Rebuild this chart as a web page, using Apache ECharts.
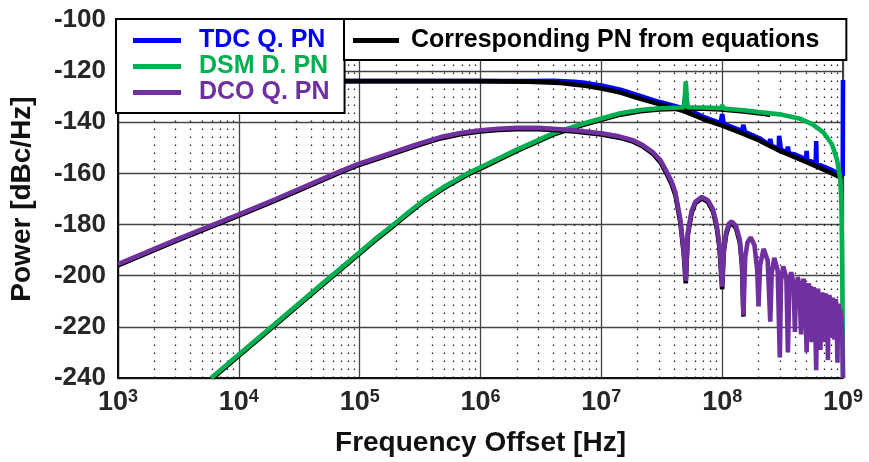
<!DOCTYPE html>
<html><head><meta charset="utf-8">
<script src="https://cdn.jsdelivr.net/npm/echarts@6/dist/echarts.min.js"></script>
<style>html,body{margin:0;padding:0;background:#fff}#c{width:869px;height:462px}</style>
</head><body><div id="c"></div>
<script>
// ---- data: [frequency offset (Hz), power (dBc/Hz)] ----
const tdcPN = [[1e3,-123.9],[2.5e6,-123.9],[4e6,-123.8],[6e6,-124.2],[7.6e6,-124.7],[1e7,-125.6],[1.44e7,-127.3],[2e7,-129.4],[3e7,-132],[4.8e7,-134.6],[5e7,-128.4],[5.2e7,-135],[7e7,-137.9],[9.7e7,-140.3],[1e8,-136.8],[1.03e8,-140.6],[1.46e8,-143.4],[1.5e8,-141],[1.54e8,-143.7],[1.95e8,-145.9],[2e8,-145.3],[2.05e8,-146.3],[2.44e8,-148.8],[2.5e8,-146.5],[2.56e8,-149.2],[2.94e8,-150.3],[2.96e8,-145.3],[3.04e8,-145.3],[3.06e8,-150.6],[3.44e8,-151.9],[3.5e8,-149.5],[3.56e8,-152.1],[4e8,-152.6],[4.5e8,-153.6],[4.95e8,-154.4],[5e8,-151.2],[5.05e8,-154.6],[5.5e8,-155.4],[5.95e8,-156],[6e8,-147.3],[6.05e8,-156.2],[7e8,-157.4],[7.5e8,-158],[8e8,-158.6],[9e8,-159.9],[9.95e8,-160.8],[1e9,-123.5]];
const tdcEq = [[1e3,-123.9],[1e6,-123.9],[2.5e6,-124.1],[4.6e6,-124.6],[7.6e6,-125.8],[1e7,-126.8],[1.44e7,-128.4],[2e7,-130.5],[3e7,-132.9],[4.8e7,-135.6],[7e7,-138.8],[1e8,-141.3],[1.5e8,-144.5],[2e8,-147],[3e8,-151.2],[5e8,-155.6],[7e8,-158.6],[8.9e8,-160.9],[1e9,-161.8]];
const dsmEq = [[6.1e3,-240],[1e4,-231.3],[2e4,-219.3],[5e4,-203.3],[1e5,-191.3],[1.31e5,-186.6],[1.92e5,-180.4],[2.6e5,-175.3],[3.4e5,-171],[5e5,-165.7],[7.8e5,-160.5],[1e6,-158.1],[2e6,-151.2],[4e6,-144.8],[7e6,-141.1],[1e7,-139],[1.44e7,-137],[2.1e7,-135.7],[3e7,-135],[4.5e7,-134.7],[7e7,-134.7],[9.8e7,-135],[1.5e8,-135.8],[2e8,-136.5],[2.5e8,-137]];
const dsmPN = [[5.9e3,-240],[1e4,-230.8],[2e4,-218.8],[5e4,-202.8],[1e5,-190.8],[1.31e5,-186.1],[1.92e5,-179.9],[2.6e5,-174.8],[3.4e5,-170.5],[5e5,-165.2],[7.8e5,-160],[1e6,-157.6],[2e6,-150.7],[4e6,-144.3],[7e6,-140.6],[1e7,-138.5],[1.44e7,-136.5],[2.1e7,-135.2],[3e7,-134.5],[4.5e7,-134.2],[4.85e7,-134.1],[5e7,-124],[5.15e7,-134.1],[7e7,-134.2],[9.8e7,-134.5],[1e8,-133.2],[1.02e8,-134.6],[1.5e8,-135.3],[2e8,-136],[3e8,-136.9],[4.4e8,-138.6],[5.6e8,-140.8],[6.9e8,-144],[8.1e8,-148.6],[8.9e8,-154.4],[9.5e8,-162.2],[9.7e8,-172],[9.85e8,-195],[1e9,-240]];
const dcoEq = [[1e3,-196],[3e3,-186.5],[1e4,-176.5],[2e4,-170.6],[4e4,-164.5],[7e4,-159.5],[1e5,-156.6],[1.8e5,-152.6],[3e5,-149.1],[4.67e5,-146.3],[7e5,-144.6],[1e6,-143.6],[1.4e6,-143],[2e6,-142.7],[3e6,-142.7],[4e6,-143],[6e6,-143.6],[1e7,-144.8],[1.4e7,-146],[1.8e7,-147.4],[2.2e7,-149.4],[2.7e7,-152.5],[3.1e7,-155.8],[3.5e7,-160.5],[3.8e7,-164],[4.1e7,-168.5],[4.5e7,-179],[4.8e7,-191],[5e7,-203],[5.2e7,-184],[5.6e7,-175.2],[6e7,-171.6],[6.8e7,-169.8],[7.6e7,-171.1],[8.4e7,-174.8],[9e7,-181],[9.5e7,-189],[1e8,-205.3],[1.03e8,-191],[1.08e8,-183.8],[1.14e8,-180.2],[1.2e8,-179.5],[1.3e8,-181.3],[1.4e8,-187],[1.46e8,-196],[1.5e8,-216]];
const dcoPN = [[1e3,-195.5],[3e3,-186],[1e4,-176],[2e4,-170.1],[4e4,-164],[7e4,-159],[1e5,-156.1],[1.8e5,-152.1],[3e5,-148.6],[4.67e5,-145.8],[7e5,-144.1],[1e6,-143.1],[1.4e6,-142.5],[2e6,-142.2],[3e6,-142.2],[4e6,-142.5],[6e6,-143.1],[1e7,-144.3],[1.4e7,-145.5],[1.8e7,-146.9],[2.2e7,-148.9],[2.7e7,-151.9],[3.1e7,-155],[3.5e7,-159.6],[3.8e7,-163],[4.1e7,-167.4],[4.5e7,-177.8],[4.8e7,-190],[5e7,-202],
[5.2e7,-183],[5.6e7,-174.5],[6e7,-171],[6.8e7,-169.2],[7.6e7,-170.5],[8.4e7,-174],[9e7,-180],[9.5e7,-188],[1e8,-204.3],
[1.03e8,-190],[1.08e8,-183],[1.14e8,-179.5],[1.2e8,-178.8],[1.3e8,-180.5],[1.4e8,-186],[1.46e8,-195],[1.5e8,-215.5],
[1.55e8,-193],[1.62e8,-187],[1.72e8,-185],[1.85e8,-188],[1.95e8,-198],[2e8,-212],
[2.06e8,-196],[2.2e8,-189.5],[2.38e8,-194],[2.5e8,-218],
[2.57e8,-199],[2.7e8,-193],[2.88e8,-198],[3e8,-232],
[3.07e8,-202],[3.2e8,-196.3],[3.4e8,-201],[3.5e8,-230],
[3.6e8,-203],[3.72e8,-198.6],[3.9e8,-203],[4e8,-222],
[4.08e8,-204],[4.15e8,-210],[4.22e8,-200.5],[4.35e8,-204],[4.42e8,-213],[4.5e8,-223],
[4.6e8,-204],[4.72e8,-201.2],[4.85e8,-207],[5e8,-230],
[5.1e8,-206],[5.22e8,-203],[5.3e8,-214],[5.4e8,-204],[5.5e8,-226],
[5.6e8,-207],[5.72e8,-204.5],[5.85e8,-210],[6e8,-237],
[6.1e8,-208],[6.22e8,-205],[6.3e8,-219],[6.4e8,-207],[6.5e8,-229],
[6.6e8,-209],[6.72e8,-206.5],[6.85e8,-212],[7e8,-226],
[7.1e8,-208],[7.22e8,-207],[7.35e8,-218],[7.42e8,-209],[7.5e8,-233],
[7.6e8,-210],[7.72e8,-207.5],[7.85e8,-213],[8e8,-224],
[8.1e8,-211],[8.22e8,-208.5],[8.3e8,-221],[8.4e8,-210],[8.5e8,-225],
[8.6e8,-211],[8.72e8,-209],[8.85e8,-216],[9e8,-234],
[9.1e8,-212],[9.22e8,-211],[9.35e8,-220],[9.42e8,-213],[9.5e8,-226],
[9.6e8,-214],[9.7e8,-214.5],[9.85e8,-222],[1e9,-240]];

const legendNames = ['TDC Q. PN','DSM D. PN','DCO Q. PN'];
const eqName = 'Corresponding PN from equations';
const colors = {tdc:'#0000ff', dsm:'#00b050', dco:'#7030a0', eq:'#000000'};
const yTicks = {min:-240, max:-100, step:20};
const xRange = {min:1e3, max:1e9};

// minor (dotted) vertical gridline positions: 2..9 x 10^k
const minorGrid = [];
for (let k = 3; k < 9; k++) for (let m = 2; m <= 9; m++) minorGrid.push(m * Math.pow(10, k));

const FF = '"Liberation Sans", Arial, sans-serif';
const chart = echarts.init(document.getElementById('c'), null, {renderer:'canvas'});
const lw = 4.6;
function line(name, data, color, z) {
  return {type:'line', name, data, showSymbol:false, symbol:'none', z, clip:true,
    lineStyle:{color, width:lw}, itemStyle:{color}, emphasis:{disabled:true}};
}
chart.setOption({
  animation:false,
  backgroundColor:'#fff',
  grid:{left:117, right:26, top:20, bottom:82.5, show:true, borderColor:'#000', borderWidth:1.5},
  xAxis:{type:'log', logBase:10, min:xRange.min, max:xRange.max,
    axisLine:{show:true, lineStyle:{color:'#000', width:1.5}},
    axisTick:{show:false},
    splitLine:{show:true, lineStyle:{color:'#444', width:1.3}},
    axisLabel:{margin:10, formatter:v => '{b|10}{s|' + Math.round(Math.log10(v)) + '}',
      rich:{b:{fontSize:27, fontWeight:'bold', color:'#262626', fontFamily:FF, lineHeight:30},
            s:{fontSize:18, fontWeight:'bold', color:'#262626', fontFamily:FF, lineHeight:16, verticalAlign:'top'}}},
    name:'Frequency Offset [Hz]', nameLocation:'middle', nameGap:51,
    nameTextStyle:{fontSize:28, fontWeight:'bold', color:'#111', fontFamily:FF}},
  yAxis:{type:'value', min:yTicks.min, max:yTicks.max, interval:yTicks.step,
    axisLine:{show:true, lineStyle:{color:'#000', width:1.5}},
    axisTick:{show:false},
    splitLine:{show:true, lineStyle:{color:'#444', width:1.3}},
    axisLabel:{fontSize:26, fontWeight:'bold', color:'#262626', margin:12, fontFamily:FF},
    name:'Power [dBc/Hz]', nameLocation:'middle', nameRotate:90, nameGap:82,
    nameTextStyle:{fontSize:28, fontWeight:'bold', color:'#111', fontFamily:FF}},
  legend:[
    {data:[{name:legendNames[0], textStyle:{color:colors.tdc}},{name:legendNames[1], textStyle:{color:colors.dsm}},{name:legendNames[2], textStyle:{color:colors.dco}}],
     orient:'vertical', left:116, top:19, padding:[9,15,8,17], itemGap:1, itemWidth:48, itemHeight:5, icon:'rect',
     backgroundColor:'#fff', borderColor:'#000', borderWidth:2, selectedMode:false, z:10,
     textStyle:{fontSize:25, fontWeight:'bold', fontFamily:FF, lineHeight:25, padding:[0,0,0,13]}},
    {data:[{name:eqName, textStyle:{color:'#000'}}],
     orient:'horizontal', left:344, top:19, padding:[9,27,7,9], itemWidth:46, itemHeight:5, icon:'rect',
     backgroundColor:'#fff', borderColor:'#000', borderWidth:2, selectedMode:false, z:10,
     textStyle:{fontSize:25, fontWeight:'bold', fontFamily:FF, lineHeight:25, padding:[0,0,0,7]}}
  ],
  series:[
    {type:'line', data:[], z:1, silent:true,
     markLine:{silent:true, symbol:['none','none'], z:1, animation:false, label:{show:false},
       lineStyle:{type:[1.5,6.5], color:'#222', width:1.3},
       emphasis:{disabled:true},
       data:minorGrid.map(v => ({xAxis:v}))}},
    line(legendNames[0], tdcPN, colors.tdc, 2),
    line(eqName, tdcEq, colors.eq, 2),
    line(eqName, dsmEq, colors.eq, 2),
    line(legendNames[1], dsmPN, colors.dsm, 2),
    line(eqName, dcoEq, colors.eq, 2),
    line(legendNames[2], dcoPN, colors.dco, 2)
  ]
});
</script></body></html>
